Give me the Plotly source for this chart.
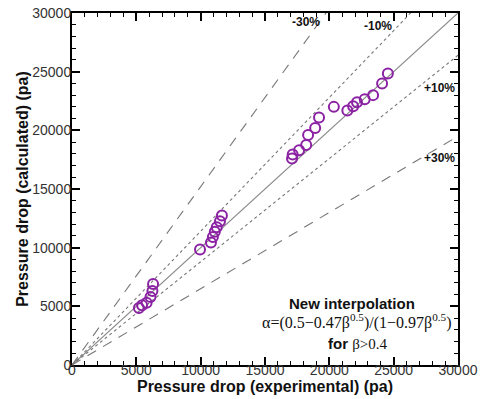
import plotly.graph_objects as go

# Measured vs. calculated pressure drop (Pa)
exp_pa = [6300, 6250, 6100, 5800, 5450, 5200,
          11650, 11500, 11250, 11100, 10950, 10800, 9950,
          17100, 17150, 17650, 18200, 18350, 18900, 19200, 20350,
          21400, 21850, 22150, 22750, 23400, 24100, 24550]
calc_pa = [6900, 6300, 5800, 5300, 5100, 4850,
           12750, 12250, 11750, 11350, 10900, 10450, 9850,
           17600, 17950, 18300, 18750, 19600, 20200, 21100, 22000,
           21700, 22050, 22400, 22650, 23000, 24000, 24850]

# Error bands: label, slope of calculated vs. experimental, dash style
band_labels = ["-30%", "-10%", "+10%", "+30%"]
band_slopes = [1.52, 1.14, 0.88, 0.65]
band_dash = ["10px,8px", "dot", "dot", "10px,8px"]

axis_max = 30000
line_x = [0, axis_max]

fig = go.Figure()

fig.add_trace(go.Scatter(x=line_x, y=line_x, mode="lines",
                         line=dict(color="#8a8a8a", width=1.2),
                         showlegend=False, hoverinfo="skip"))
for s, d in zip(band_slopes, band_dash):
    fig.add_trace(go.Scatter(x=line_x, y=[v * s for v in line_x], mode="lines",
                             line=dict(color="#777777", width=1.1, dash=d),
                             showlegend=False, hoverinfo="skip"))

fig.add_trace(go.Scatter(x=exp_pa, y=calc_pa, mode="markers",
                         marker=dict(symbol="circle-open", size=10,
                                     color="#8b22a3", line=dict(width=2)),
                         showlegend=False))

sans = "Liberation Sans, Arial, sans-serif"
serif = "Liberation Serif, Times New Roman, serif"

# Band labels
label_pos = [(18200, 29250), (23800, 28900), (28600, 23600), (28600, 17650)]
for t, (lx, ly) in zip(band_labels, label_pos):
    fig.add_annotation(x=lx, y=ly, text="<b>" + t + "</b>", showarrow=False,
                       font=dict(family=sans, size=12, color="#111"))

fig.add_annotation(x=21800, y=5250, text="<b>New interpolation</b>", showarrow=False,
                   font=dict(family=sans, size=15, color="#111"))
fig.add_annotation(x=22100, y=3700,
                   text="α=(0.5−0.47β<sup>0.5</sup>)/(1−0.97β<sup>0.5</sup>)",
                   showarrow=False, font=dict(family=serif, size=16, color="#111"))
fig.add_annotation(x=22200, y=1850,
                   text="<b>for</b> <span style='font-family:Liberation Serif'>β&gt;0.4</span>",
                   showarrow=False, font=dict(family=sans, size=15, color="#111"))

axis_common = dict(
    range=[0, axis_max], dtick=5000, tick0=0, tickformat="d",
    showgrid=False, zeroline=False, automargin=False,
    showline=True, linecolor="black", linewidth=2, mirror="allticks",
    ticks="inside", ticklen=8, tickwidth=2, tickcolor="black",
    minor=dict(dtick=1000, ticks="inside", ticklen=4, tickwidth=1,
               tickcolor="black", showgrid=False),
    tickfont=dict(family=sans, size=14, color="#333"),
)

fig.update_layout(
    width=480, height=399,
    margin=dict(l=72, r=22, t=13, b=34),
    plot_bgcolor="white", paper_bgcolor="white",
    xaxis=dict(**axis_common, ticklabelstandoff=-9,
               title=dict(text="<b>Pressure drop (experimental) (pa)</b>", standoff=0,
                          font=dict(family=sans, size=16, color="#111"))),
    yaxis=dict(**axis_common, ticklabelstandoff=-4,
               title=dict(text="<b>Pressure drop (calculated) (pa)</b>", standoff=0,
                          font=dict(family=sans, size=16, color="#111"))),
)

fig.write_html("out.html")
